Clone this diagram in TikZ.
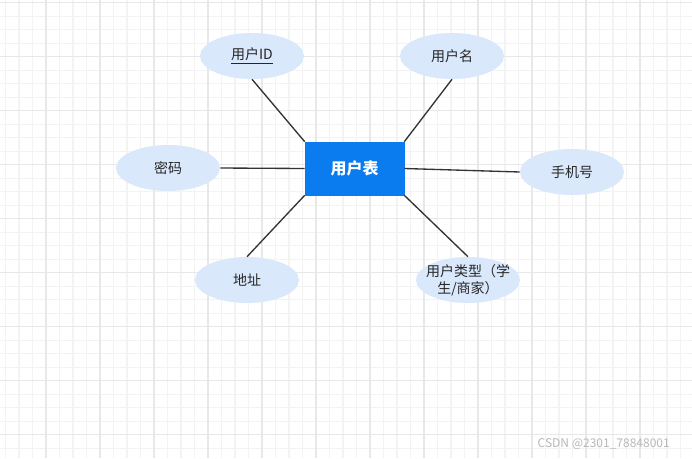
\documentclass[tikz,border=0pt]{standalone}
\usepackage{fontspec}
\setmainfont{Noto Sans CJK SC}
\usepackage{tikz}
\usetikzlibrary{positioning,shapes.geometric}
\definecolor{gridminor}{HTML}{F3F3F3}
\definecolor{gridmajor}{HTML}{E8E8E8}
\definecolor{entblue}{HTML}{0A7CF0}
\definecolor{attrblue}{HTML}{DAE8FC}
\definecolor{linkgray}{HTML}{333333}
\tikzset{
  entity/.style={rectangle,fill=entblue,draw=entblue,minimum width=99*0.75pt,minimum height=53*0.75pt,align=center,text=white,font=\fontsize{12}{14}\selectfont\bfseries,inner sep=0pt},
  attr/.style={ellipse,fill=attrblue,draw=none,minimum width=104*0.75pt,minimum height=46*0.75pt,inner sep=0pt,align=center,font=\fontsize{10.5}{13}\selectfont,text=black!85},
  attrtext/.style={align=center,font=\fontsize{10.5}{13}\selectfont,text=black!85,inner sep=0pt},
  link/.style={draw=linkgray,line width=1pt},
  minorgrid/.style={draw=gridminor,line width=0.8pt},
  majorgrid/.style={draw=gridmajor,line width=1.1pt}
}

\begin{document}
\begin{tikzpicture}[x=0.75pt,y=-0.75pt]
\useasboundingbox (0,0) rectangle (692,458);
\fill[white] (0,0) rectangle (692,458);
% grid
\foreach \i in {0,...,50} \draw[minorgrid] ({5.5+13.5*\i},0) -- ({5.5+13.5*\i},458);
\foreach \j in {0,...,33} \draw[minorgrid] (0,{2.7+13.5*\j}) -- (692,{2.7+13.5*\j});
\foreach \i in {0,...,11} \draw[majorgrid] ({46+54*\i},0) -- ({46+54*\i},458);
\foreach \j in {0,...,8} \draw[majorgrid] (0,{2.7+54*\j}) -- (692,{2.7+54*\j});

% entity and attributes
\node[entity] (users) at (354.5,168.5) {用户表};
\node[attr] (uid) at (252,56) {\underline{用户ID}};
\node[attr] (uname) at (452,56) {用户名};
\node[attr] (pwd) at (168,168) {密码};
\node[attr] (phone) at (572,172) {手机号};
\node[attr] (addr) at (247,280) {地址};
\node[attr] (utype) at (468,280) {};
\node[attrtext] (utypetext) at (utype.center) {用户类型（学\\生/商家）};

\draw[link] (uid.south) -- (users.north west);
\draw[link] (uname.south) -- (users.north east);
\draw[link] (pwd.east) -- (users.west);
\draw[link] (users.east) -- (phone.west);
\draw[link] (users.south west) -- (addr.north);
\draw[link] (users.south east) -- (utype.north);

\node[anchor=east,text=black!28,font=\fontsize{9}{10}\selectfont,inner sep=0pt] (mark) at (670,444) {CSDN @2301\_78848001};
\end{tikzpicture}
\end{document}
